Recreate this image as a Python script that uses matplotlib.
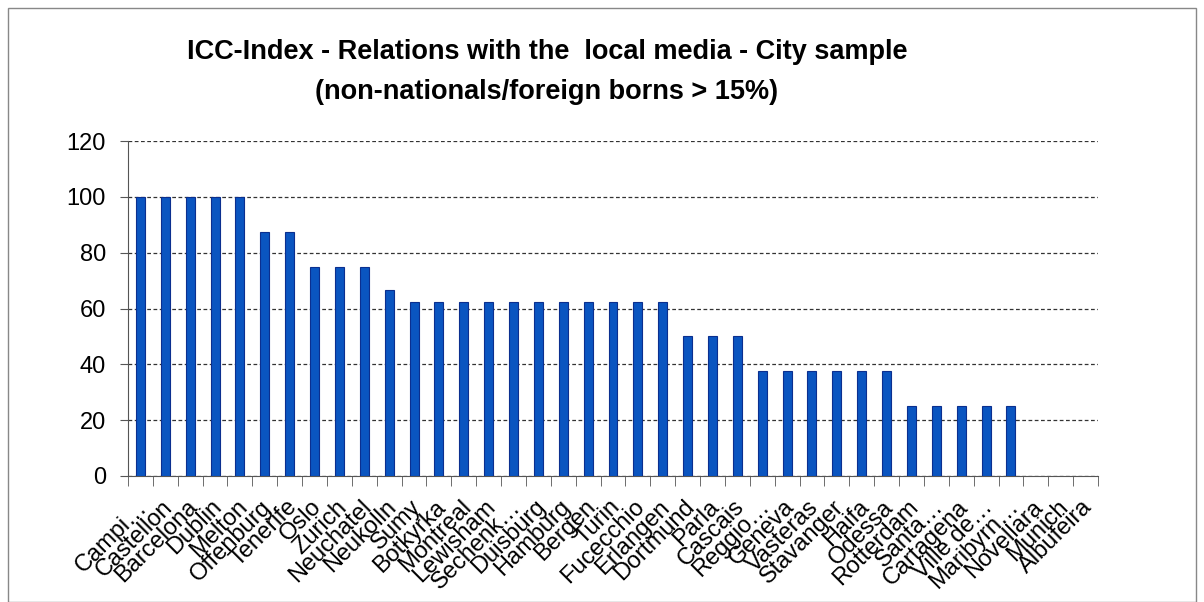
import matplotlib
matplotlib.use("Agg")
import matplotlib.pyplot as plt
from matplotlib.patches import Rectangle
from matplotlib.transforms import ScaledTranslation

cities = ["Campi…", "Castellon", "Barcelona", "Dublin", "Melton", "Offenburg", "Tenerife",
          "Oslo", "Zurich", "Neuchatel", "Neukolln", "Sumy", "Botkyrka", "Montreal",
          "Lewisham", "Sechenk…", "Duisburg", "Hamburg", "Bergen", "Turin", "Fucecchio",
          "Erlangen", "Dortmund", "Parla", "Cascais", "Reggio…", "Geneva", "Vasteras",
          "Stavanger", "Haifa", "Odessa", "Rotterdam", "Santa…", "Cartagena", "Ville de…",
          "Maribyrn…", "Novellara", "Munich", "Albufeira"]
values = [100, 100, 100, 100, 100, 87.5, 87.5,
          75, 75, 75, 66.7, 62.5, 62.5, 62.5,
          62.5, 62.5, 62.5, 62.5, 62.5, 62.5, 62.5,
          62.5, 50, 50, 50, 37.5, 37.5, 37.5,
          37.5, 37.5, 37.5, 25, 25, 25, 25,
          25, 0, 0, 0]
yticks = [0, 20, 40, 60, 80, 100, 120]
title_line1 = "ICC-Index - Relations with the  local media - City sample"
title_line2 = "(non-nationals/foreign borns > 15%)"

plt.rcParams['font.family'] = ['Liberation Sans', 'DejaVu Sans']

fig = plt.figure(figsize=(12.04, 6.02), dpi=100)
ax = fig.add_axes([128/1204, 1-476/602, (1098-128)/1204, (476-141)/602])

n = len(cities)
x = list(range(n))
lws = [0.8 if v > 0 else 0 for v in values]
ax.bar(x, values, width=0.36, color='#0a55c0', edgecolor='#0b2f8f', linewidth=lws, zorder=3)

ax.set_xlim(-0.5, n - 0.5)
ax.set_ylim(0, 120)
ax.set_yticks(yticks)
ax.set_yticklabels([str(v) for v in yticks], fontsize=17)
ax.yaxis.grid(True, linestyle=(0, (3, 2)), color='#333333', linewidth=0.9, zorder=0)

ax.set_xticks(x)
ax.set_xticklabels([])
ax.tick_params(axis='x', which='major', length=0)
ax.set_xticks([i - 0.5 for i in range(n + 1)], minor=True)
ax.tick_params(axis='x', which='minor', length=7, color='#555555', direction='out')
ax.tick_params(axis='y', length=6, color='#555555', direction='out', pad=10)

label_tr = ax.get_xaxis_transform() + ScaledTranslation(8/100, -32/100, fig.dpi_scale_trans)
for xi, name in zip(x, cities):
    ax.text(xi, 0, name, transform=label_tr, rotation=45, ha='right', va='baseline',
            rotation_mode='anchor', fontsize=17, clip_on=False)

for s in ['top', 'right']:
    ax.spines[s].set_visible(False)
ax.spines['left'].set_color('#555555')
ax.spines['bottom'].set_color('#555555')

fig.text(547/1204, 1-52/602, title_line1, ha='center', va='center', fontsize=19.5,
         fontweight='bold')
fig.text(547/1204, 1-92/602, title_line2, ha='center', va='center', fontsize=19.5,
         fontweight='bold')

border = Rectangle((8/1204, 0), (1196-8)/1204, 1-8/602, transform=fig.transFigure,
                   fill=False, edgecolor='#888888', linewidth=1.0)
fig.patches.append(border)

fig.savefig("out.png", dpi=100)
